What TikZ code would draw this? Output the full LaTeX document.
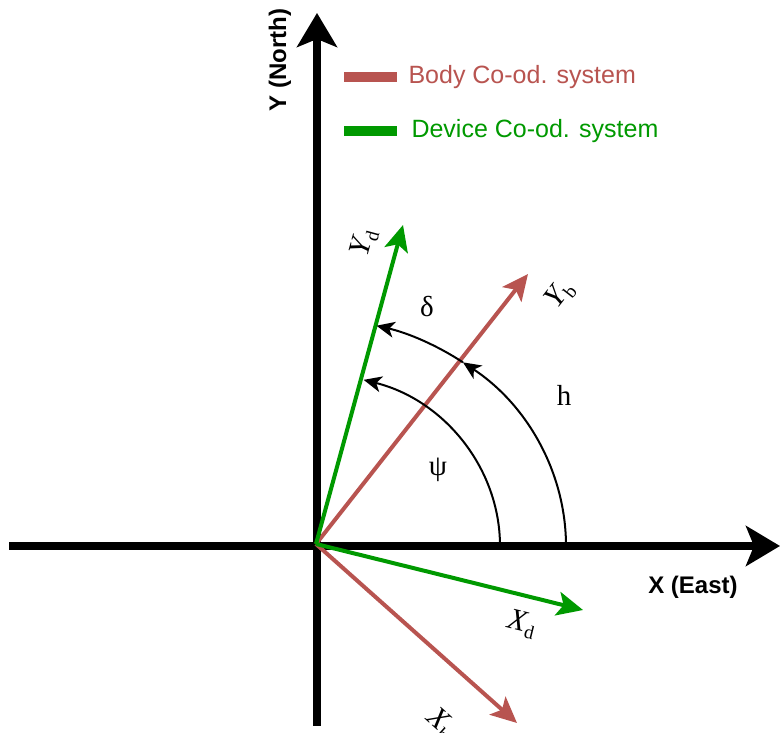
\documentclass[tikz,border=0pt]{standalone}
\usepackage{fontspec}
\setmainfont{Liberation Sans}
\newfontfamily\serif{Liberation Serif}
\usepackage{xcolor}
\usetikzlibrary{arrows.meta, positioning}
\definecolor{bodyred}{HTML}{B85450}
\definecolor{devgreen}{HTML}{009900}
\newcommand{\veclbl}[2]{{\serif\fontsize{30}{30}\selectfont\itshape #1}{\serif\fontsize{19}{19}\selectfont\raisebox{-6pt}{#2}}}

\begin{document}
\begin{tikzpicture}[x=1pt, y=1pt,
    axis/.style={line width=8.5pt, -{Stealth[length=34pt, width=40pt, inset=8pt]}},
    vec/.style={line width=4pt, -{Stealth[length=26pt, width=24pt, inset=6pt]}},
    angarc/.style={line width=2pt, -{Stealth[length=18pt, width=16pt, inset=5pt]}},
    axlabel/.style={font=\fontsize{24}{24}\selectfont\bfseries},
    veclabel/.style={inner sep=0pt},
    greek/.style={font=\serif\fontsize{29}{29}\selectfont},
    legline/.style={line width=10pt},
    legtext/.style={font=\fontsize{25}{25}\selectfont}
  ]
    \useasboundingbox (0,0) rectangle (780,733);

    % Axes
    \coordinate (xstart) at (9,187);
    \coordinate (xend) at (780,187);
    \coordinate (ystart) at (317,7);
    \coordinate (yend) at (317,720);
    \draw[axis] (xstart) -- (xend);
    \draw[axis] (ystart) -- (yend);
    \node[axlabel] (xlab) at (693,146) {X (East)};
    \node[axlabel, rotate=90] (ylab) at (280,673) {Y (North)};

    % Body and device frames
    \coordinate (O) at (316,189);
    \coordinate (Yd) at (403,508);
    \coordinate (Yb) at (528,459);
    \coordinate (Xd) at (583,123);
    \coordinate (Xb) at (517,10);
    \draw[vec, bodyred] (O) -- (Yb);
    \draw[vec, bodyred] (O) -- (Xb);
    \draw[vec, devgreen] (O) -- (Yd);
    \draw[vec, devgreen] (O) -- (Xd);
    \node[veclabel, rotate=74.7] (Ydlab) at (364,490) {\veclbl{Y}{d}};
    \node[veclabel, rotate=52] (Yblab) at (560,438) {\veclbl{Y}{b}};
    \node[veclabel, rotate=-14] (Xdlab) at (522,109) {\veclbl{X}{d}};
    \node[veclabel, rotate=-42] (Xblab) at (440,9) {\veclbl{X}{b}};

    % Angles
    \draw[angarc] (500,187) arc[start angle=0, end angle=75, x radius=184, y radius=172];
    \draw[angarc] (566,187) arc[start angle=0, end angle=54, x radius=250, y radius=227] coordinate (hend);
    \draw[angarc] (hend) arc[start angle=54, end angle=76, x radius=250, y radius=227];
    \node[greek] (delta) at (427,426) {δ};
    \node[greek] (hlab) at (564,338) {h};
    \node[greek] (psi) at (438,263) {ψ};

    % Legend
    \coordinate (bodyA) at (344,656);
    \coordinate (bodyB) at (397,656);
    \coordinate (devA) at (344,602);
    \coordinate (devB) at (397,602);
    \draw[legline, bodyred] (bodyA) -- (bodyB);
    \draw[legline, devgreen] (devA) -- (devB);
    \node[legtext, bodyred, right=8pt of bodyB] (bodylab) {Body Co-od. system};
    \node[legtext, devgreen, right=11pt of devB] (devlab) {Device Co-od. system};
  \end{tikzpicture}
\end{document}
